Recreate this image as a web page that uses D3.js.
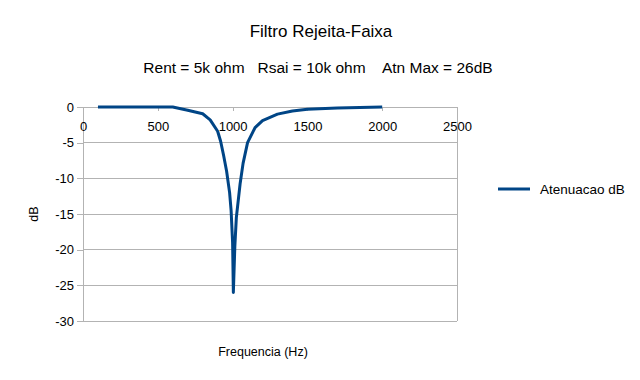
<!DOCTYPE html>
<html>
<head>
<meta charset="utf-8">
<script src="https://cdn.jsdelivr.net/npm/d3@7"></script>
<style>
  body { margin: 0; background: #fff; }
  text { font-family: "Liberation Sans", Arial, sans-serif; fill: #000; }
</style>
</head>
<body>
<script>
// Data
const frequencies = [100, 200, 300, 400, 500, 600, 700, 800, 850, 900, 920, 940, 960, 980, 990, 1000, 1005,
  1015, 1025, 1050, 1070, 1100, 1150, 1200, 1300, 1400, 1500, 1700, 2000];
const attenuation = [0, 0, 0, 0, 0, 0, -0.45, -0.95, -1.8, -3.4, -4.8, -6.8, -9.0, -12.0, -14.5, -19.0, -26.0,
  -19.5, -15.5, -10.8, -7.9, -5.0, -2.9, -1.9, -1.0, -0.55, -0.3, -0.15, 0];
const xTicks = [0, 500, 1000, 1500, 2000, 2500];
const yTicks = [0, -5, -10, -15, -20, -25, -30];
const seriesName = 'Atenuacao dB';

const width = 640, height = 380;
const margin = { left: 83, right: 183, top: 107, bottom: 59 };
const font = '"Liberation Sans", Arial, sans-serif';

const svg = d3.select('body').append('svg')
  .attr('width', width)
  .attr('height', height);

// Scales
const x = d3.scaleLinear().domain([0, 2500]).range([margin.left, width - margin.right]);
const y = d3.scaleLinear().domain([-30, 0]).range([height - margin.bottom, margin.top]);

// Horizontal grid lines
svg.append('g').selectAll('line')
  .data(yTicks)
  .join('line')
  .attr('x1', x(0)).attr('x2', x(2500))
  .attr('y1', d => y(d)).attr('y2', d => y(d))
  .attr('stroke', '#b3b3b3').attr('stroke-width', 1)
  .attr('shape-rendering', 'crispEdges');

// Right wall
svg.append('line')
  .attr('x1', x(2500)).attr('x2', x(2500))
  .attr('y1', y(0)).attr('y2', y(-30))
  .attr('stroke', '#b3b3b3')
  .attr('shape-rendering', 'crispEdges');

// Y axis (plain hyphen minus, like the original)
const yAxis = svg.append('g')
  .attr('transform', `translate(${x(0)},0)`)
  .call(d3.axisLeft(y).tickValues(yTicks).tickSize(6).tickPadding(3).tickFormat(d => String(d)));
yAxis.select('.domain').attr('stroke', '#b3b3b3').attr('shape-rendering', 'crispEdges');
yAxis.selectAll('.tick line').attr('stroke', '#b3b3b3').attr('shape-rendering', 'crispEdges');
yAxis.selectAll('text').style('font-size', '13px').style('font-family', font).attr('fill', '#000');

// X axis crossing at 0 dB
const xAxis = svg.append('g')
  .attr('transform', `translate(0,${y(0)})`)
  .call(d3.axisBottom(x).tickValues(xTicks).tickSize(4).tickPadding(11).tickFormat(d => String(d)));
xAxis.select('.domain').remove();
xAxis.selectAll('.tick line').attr('stroke', '#b3b3b3').attr('shape-rendering', 'crispEdges');
xAxis.selectAll('text').style('font-size', '13px').style('font-family', font).attr('fill', '#000');

// Series line
const points = frequencies.map((f, i) => [f, attenuation[i]]);
svg.append('path')
  .datum(points)
  .attr('d', d3.line().x(d => x(d[0])).y(d => y(d[1])))
  .attr('fill', 'none')
  .attr('stroke', '#004586')
  .attr('stroke-width', 3)
  .attr('stroke-linejoin', 'round');

// Titles
svg.append('text')
  .attr('x', 321).attr('y', 37)
  .attr('text-anchor', 'middle')
  .style('font-size', '17px')
  .text('Filtro Rejeita-Faixa');

svg.append('text')
  .attr('x', 318).attr('y', 73)
  .attr('text-anchor', 'middle')
  .style('font-size', '15.5px')
  .style('white-space', 'pre')
  .text('Rent = 5k ohm   Rsai = 10k ohm    Atn Max = 26dB');

// Axis titles
svg.append('text')
  .attr('x', 263).attr('y', 356)
  .attr('text-anchor', 'middle')
  .style('font-size', '12.5px')
  .text('Frequencia (Hz)');

svg.append('text')
  .attr('transform', 'translate(38,214) rotate(-90)')
  .attr('text-anchor', 'middle')
  .style('font-size', '12.5px')
  .text('dB');

// Legend
const legend = svg.append('g').attr('transform', 'translate(498,189)');
legend.append('line')
  .attr('x1', 0).attr('x2', 32)
  .attr('stroke', '#004586').attr('stroke-width', 3);
legend.append('text')
  .attr('x', 42).attr('y', 5)
  .style('font-size', '13.5px')
  .text(seriesName);
</script>
</body>
</html>
